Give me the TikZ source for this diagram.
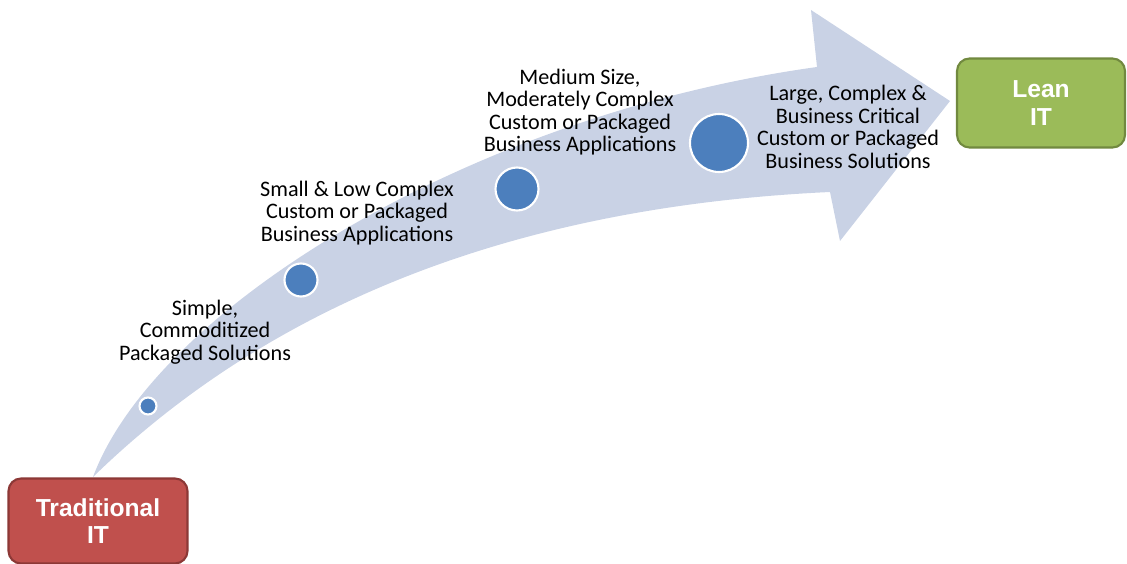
\documentclass[tikz,border=0pt]{standalone}
\usepackage{fontspec}
\setmainfont{Carlito}
\newfontfamily\boxfont{Liberation Sans}
\definecolor{bandblue}{RGB}{201,210,229}
\definecolor{dotblue}{RGB}{76,127,189}
\definecolor{oldred}{RGB}{192,80,77}
\definecolor{oldredline}{RGB}{140,56,54}
\definecolor{leangreen}{RGB}{155,187,89}
\definecolor{leangreenline}{RGB}{113,137,63}

\begin{document}
\begin{tikzpicture}[x=0.02cm,y=-0.02cm,
    stage/.style={circle,fill=dotblue,draw=white,line width=1.2pt,inner sep=0pt},
    note/.style={align=center,font=\fontsize{12.6}{12.8}\selectfont,inner sep=0pt},
    endbox/.style={rounded corners=0.25cm,line width=1.2pt,align=center,
        text=white,font=\boxfont\bfseries\fontsize{14}{15.5}\selectfont}]
                \useasboundingbox (0,0) rectangle (1127,564);
                % the curved arrow
                \fill[bandblue] (93,477) .. controls (155,310) and (470,115) .. (817,67)
                    -- (811,10) -- (950,101) -- (840,241) -- (830,192)
                    .. controls (550,205) and (290,285) .. (93,477) -- cycle;
                \node[stage,minimum size=0.34cm] (s1) at (148,406) {};
                \node[stage,minimum size=0.66cm] (s2) at (301,280) {};
                \node[stage,minimum size=0.86cm] (s3) at (517,189) {};
                \node[stage,minimum size=1.16cm] (s4) at (719,143) {};
                \node[note] (t1) at (205,332) {Simple,\\Commoditized\\Packaged Solutions};
                \node[note] (t2) at (357,213) {Small \& Low Complex\\Custom or Packaged\\Business Applications};
                \node[note] (t3) at (580,112) {Medium Size,\\Moderately Complex\\Custom or Packaged\\Business Applications};
                \node[note] (t4) at (848,127) {Large, Complex \&\\Business Critical\\Custom or Packaged\\Business Solutions};
                \node[endbox,fill=oldred,draw=oldredline,minimum width=3.58cm,minimum height=1.7cm] (trad) at (98,521) {Traditional\\IT};
                \node[endbox,fill=leangreen,draw=leangreenline,minimum width=3.36cm,minimum height=1.78cm] (lean) at (1041,103) {Lean\\IT};
            \end{tikzpicture}
\end{document}
